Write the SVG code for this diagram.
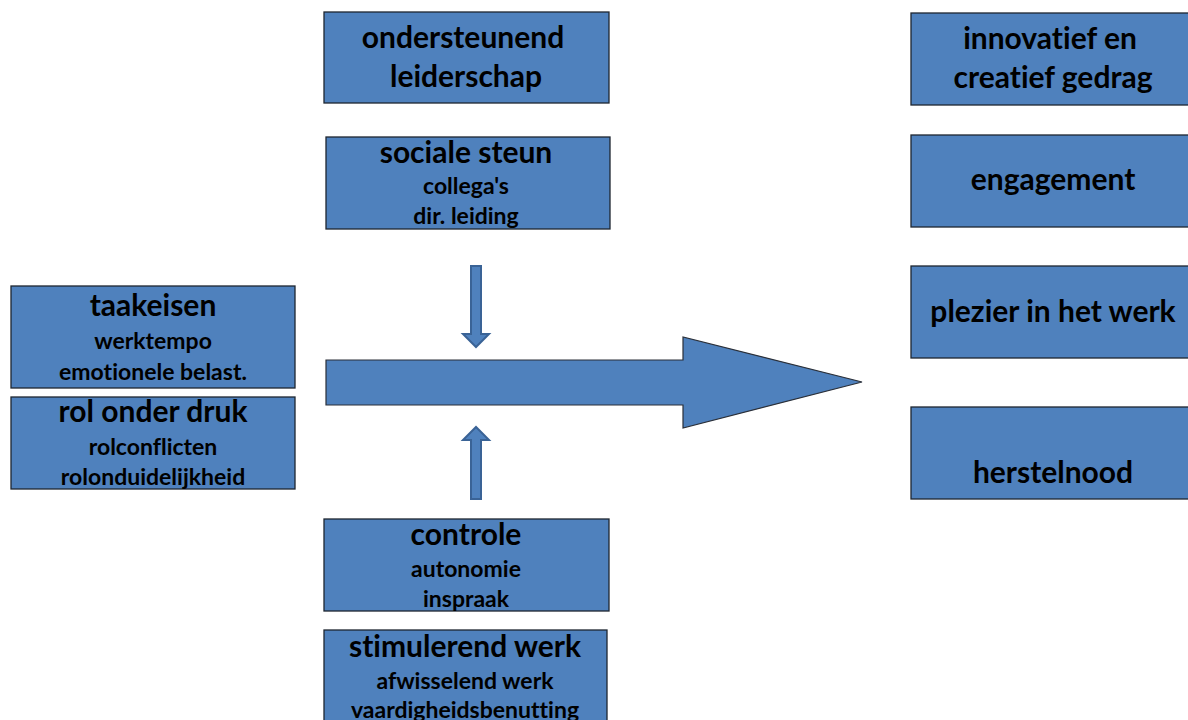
<svg xmlns="http://www.w3.org/2000/svg" width="1188" height="720" viewBox="0 0 1188 720">
<style>
.box{fill:#4f81bd;stroke:#1e2630;stroke-width:1.3}
.t{font-family:Lato,"Open Sans","Liberation Sans",sans-serif;font-weight:bold;fill:#000;text-anchor:middle;font-variant-ligatures:none}
.h{font-size:30px}
.s{font-size:23px}
.big{fill:#4f81bd;stroke:#2a2f38;stroke-width:1.2}
.small{fill:#4f81bd;stroke:#3a6396;stroke-width:2}
</style>
<rect width="1188" height="720" fill="#fff"/>
<g id="connectors">
<path class="big" d="M326,360 H683 V337 L862,382 L683,428 V405 H326 Z"/>
<path class="small" d="M471,266 H481 V334 H489 L476,347 L463,334 H471 Z"/>
<path class="small" d="M471,499 H481 V440 H489 L476,427 L463,440 H471 Z"/>
</g>
<g id="leiderschap">
<rect class="box" x="324" y="12" width="285" height="91"/>
<text class="t h" x="463" y="48">ondersteunend</text>
<text class="t h" x="466" y="87">leiderschap</text>
</g>
<g id="sociale-steun">
<rect class="box" x="326" y="137" width="284" height="92"/>
<text class="t h" x="466" y="163">sociale steun</text>
<text class="t s" x="466" y="194">collega's</text>
<text class="t s" x="466" y="224">dir. leiding</text>
</g>
<g id="taakeisen">
<rect class="box" x="11" y="286" width="284" height="102"/>
<text class="t h" x="153" y="316">taakeisen</text>
<text class="t s" x="153" y="349">werktempo</text>
<text class="t s" x="153" y="380">emotionele belast.</text>
</g>
<g id="rol-onder-druk">
<rect class="box" x="11" y="397" width="284" height="92"/>
<text class="t h" x="153" y="422">rol onder druk</text>
<text class="t s" x="153" y="455">rolconflicten</text>
<text class="t s" x="153" y="485">rolonduidelijkheid</text>
</g>
<g id="controle">
<rect class="box" x="324" y="519" width="285" height="92"/>
<text class="t h" x="466" y="545">controle</text>
<text class="t s" x="466" y="577">autonomie</text>
<text class="t s" x="466" y="607">inspraak</text>
</g>
<g id="stimulerend-werk">
<rect class="box" x="324" y="630" width="283" height="100"/>
<text class="t h" x="465" y="657">stimulerend werk</text>
<text class="t s" x="465" y="689">afwisselend werk</text>
<text class="t s" x="465" y="718">vaardigheidsbenutting</text>
</g>
<g id="innovatief">
<rect class="box" x="911" y="13" width="284" height="92"/>
<text class="t h" x="1050" y="49">innovatief en</text>
<text class="t h" x="1053" y="88">creatief gedrag</text>
</g>
<g id="engagement">
<rect class="box" x="911" y="135" width="284" height="92"/>
<text class="t h" x="1053" y="190">engagement</text>
</g>
<g id="plezier">
<rect class="box" x="911" y="266" width="284" height="92"/>
<text class="t h" x="1053" y="322">plezier in het werk</text>
</g>
<g id="herstelnood">
<rect class="box" x="911" y="407" width="284" height="92"/>
<text class="t h" x="1053" y="483">herstelnood</text>
</g>
</svg>
